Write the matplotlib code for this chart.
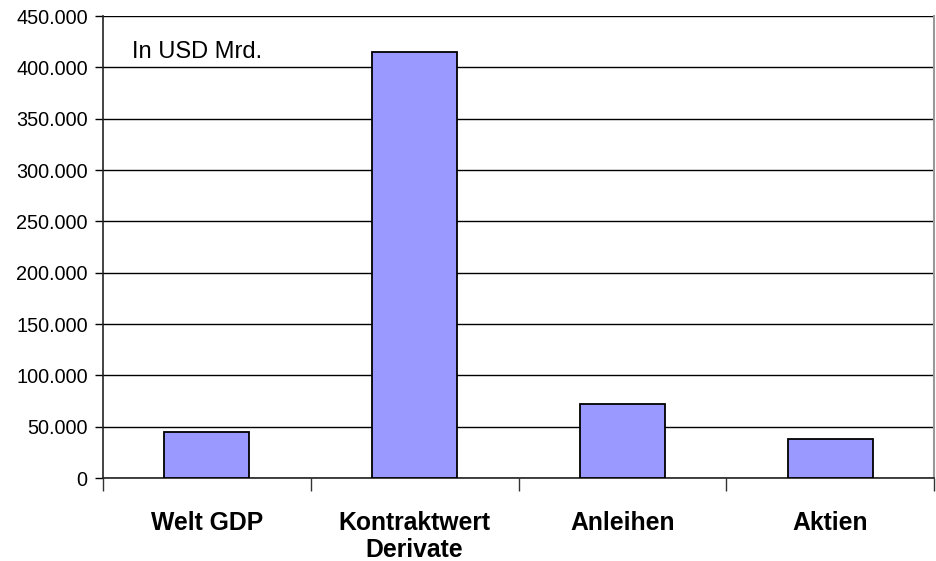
import matplotlib.pyplot as plt
import matplotlib.ticker as mticker
import numpy as np

plt.rcParams['font.family'] = ['Liberation Sans', 'DejaVu Sans']

categories = ['Welt GDP', 'Kontraktwert\nDerivate', 'Anleihen', 'Aktien']
values = [44700, 414800, 72400, 38300]  # USD Mrd.

fig = plt.figure(figsize=(9.36, 5.61), dpi=100)
ax = fig.add_axes([103 / 936, 1 - 478 / 561, 831 / 936, 462 / 561])

x = np.arange(len(categories))
ax.bar(x, values, width=0.41, color='#9999FF', edgecolor='black',
       linewidth=1.3, zorder=3)

ax.set_xlim(-0.5, len(categories) - 0.5)
ax.set_ylim(0, 450000)

# thousands with a dot, German style
ax.yaxis.set_major_locator(mticker.MultipleLocator(50000))
ax.yaxis.set_major_formatter(
    mticker.FuncFormatter(lambda v, p: f'{int(v):,}'.replace(',', '.')))
ax.grid(axis='y', color='black', linewidth=1.0, zorder=0)

# category labels centred, tick marks on the boundaries
ax.set_xticks(x)
ax.set_xticklabels(categories, fontsize=17.8, fontweight='bold',
                   linespacing=1.15, va='top')
ax.tick_params(axis='x', which='major', length=0, pad=24)
ax.set_xticks(np.arange(-0.5, len(categories) + 0.5, 1), minor=True)
ax.tick_params(axis='x', which='minor', length=9, width=1.0, color='#333333')
ax.tick_params(axis='y', length=6, width=1.0, labelsize=14.3, pad=5)

for side in ['left', 'bottom']:
    ax.spines[side].set_color('#222222')
    ax.spines[side].set_linewidth(1.2)
ax.spines['top'].set_visible(False)
ax.spines['right'].set_color('#999999')
ax.spines['right'].set_linewidth(1.5)

ax.text(0.035, 409000, 'In USD Mrd.', transform=ax.get_yaxis_transform(),
        fontsize=17, va='baseline', ha='left')

fig.savefig('out.png', dpi=100)
